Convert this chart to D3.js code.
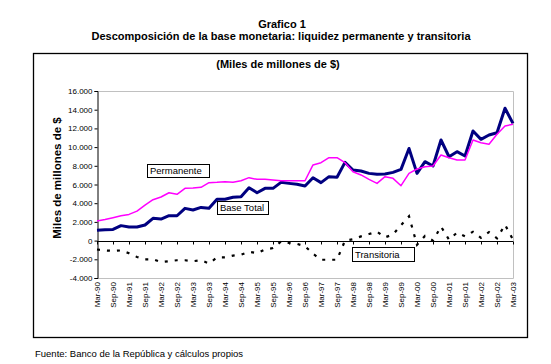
<!DOCTYPE html>
<html>
<head>
<meta charset="utf-8">
<script src="https://cdn.jsdelivr.net/npm/d3@7"></script>
<style>
  html, body { margin: 0; padding: 0; background: #fff; }
  svg { display: block; font-family: "Liberation Sans", Arial, sans-serif; }
</style>
</head>
<body>
<svg id="chart" width="551" height="364"></svg>
<script>
// ---- data (quarterly, Mar-90 .. Mar-03) ----
const years = ["90","91","92","93","94","95","96","97","98","99","00","01","02","03"];
const months = ["Mar","Jun","Sep","Dec"];
const categories = [];
years.forEach(y => months.forEach(m => categories.push(m + "-" + y)));
categories.splice(53);

const baseTotal = [1100,1150,1200,1600,1450,1450,1670,2380,2300,2660,2660,3450,3270,3550,3450,4420,4420,4630,4700,5660,5120,5590,5590,6230,6120,6020,5840,6730,6200,6840,6770,8370,7550,7440,7190,7090,7120,7300,7620,9850,7190,8440,7980,10760,8970,9510,9050,11720,10830,11290,11540,14150,12540];
const permanente = [2100,2250,2450,2650,2800,3150,3800,4370,4660,5120,4950,5590,5630,5700,6200,6230,6300,6230,6400,6730,6550,6550,6480,6400,6400,6400,6400,8090,8330,8870,8870,8330,7370,7020,6550,6120,6840,6660,5870,7190,7660,7900,7980,9150,8870,8620,8620,10760,10470,10300,11370,12260,12440];
const transitoria = [-950,-1050,-1100,-1050,-1350,-1750,-2000,-2000,-2300,-2200,-2100,-2100,-2200,-2100,-2450,-1800,-1800,-1600,-1500,-1200,-1350,-950,-800,-100,-250,-350,-600,-1400,-2050,-2050,-2050,0,150,450,700,950,350,650,1650,2600,-450,500,0,1500,100,850,450,950,300,900,250,1700,100];

const tickLabels = ["Mar-90","Sep-90","Mar-91","Sep-91","Mar-92","Sep-92","Mar-93","Sep-93","Mar-94","Sep-94","Mar-95","Sep-95","Mar-96","Sep-96","Mar-97","Sep-97","Mar-98","Sep-98","Mar-99","Sep-99","Mar-00","Sep-00","Mar-01","Sep-01","Mar-02","Sep-02","Mar-03"];
const yTicks = [-4000,-2000,0,2000,4000,6000,8000,10000,12000,14000,16000];

const titleLines = ["Grafico 1", "Descomposición de la base monetaria: liquidez permanente y transitoria"];
const unitText = "(Miles de millones de $)";
const yAxisTitle = "Miles de millones de $";
const sourceText = "Fuente: Banco de la República y cálculos propios";
const seriesLabels = ["Permanente", "Base Total", "Transitoria"];

// ---- drawing ----
const svg = d3.select("#chart");
const L = 97, R = 513, T = 91, B = 278;

const x = d3.scalePoint().domain(categories).range([L, R]);
const y = d3.scaleLinear().domain([-4000, 16000]).range([B, T]);

const loc = d3.formatLocale({decimal: ",", thousands: ".", grouping: [3], currency: ["$", ""], minus: "-"});
const fmt = loc.format(",.0f");

// titles
svg.append("text").attr("x", 282).attr("y", 28).attr("text-anchor", "middle")
  .attr("font-weight", "bold").attr("font-size", 11).text(titleLines[0]);
svg.append("text").attr("x", 281).attr("y", 40).attr("text-anchor", "middle")
  .attr("font-weight", "bold").attr("font-size", 11).text(titleLines[1]);

// outer box
svg.append("rect").attr("x", 33.5).attr("y", 53.5).attr("width", 494).attr("height", 284)
  .attr("fill", "none").attr("stroke", "#000").attr("stroke-width", 1.3);

svg.append("text").attr("x", 278).attr("y", 68).attr("text-anchor", "middle")
  .attr("font-weight", "bold").attr("font-size", 11).text(unitText);

// plot border (gray) top/right/bottom
svg.append("path")
  .attr("d", `M${L},${T + 0.5}H${R + 0.5}V${B + 0.5}H${L}`)
  .attr("fill", "none").attr("stroke", "#c0c0c0").attr("stroke-width", 1);

// y axis
const yAxis = svg.append("g").attr("transform", `translate(${L + 0.5},0)`)
  .call(d3.axisLeft(y).tickValues(yTicks).tickFormat(fmt).tickSize(3).tickPadding(2));
yAxis.select(".domain").attr("stroke", "#000");
yAxis.selectAll("text").attr("font-size", 8).attr("font-family", "Liberation Sans, Arial, sans-serif").attr("fill", "#000");

// zero line with ticks
const zeroY = Math.round(y(0)) + 0.5;
svg.append("line").attr("x1", L).attr("x2", R).attr("y1", zeroY).attr("y2", zeroY)
  .attr("stroke", "#000").attr("stroke-width", 1);
const tickCats = categories.filter((c, i) => i % 2 === 0);
svg.append("g").selectAll("line").data(tickCats).join("line")
  .attr("x1", d => x(d) + 0.5).attr("x2", d => x(d) + 0.5)
  .attr("y1", zeroY).attr("y2", zeroY + 3)
  .attr("stroke", "#000").attr("stroke-width", 1);

// x labels (rotated)
svg.append("g").selectAll("text").data(tickCats).join("text")
  .attr("transform", (d, i) => `translate(${x(d) + 2.8},${B + 4}) rotate(-90)`)
  .attr("text-anchor", "end")
  .attr("font-size", 8)
  .text((d, i) => tickLabels[i]);

// y axis title
svg.append("text")
  .attr("transform", "translate(61,178) rotate(-90)")
  .attr("text-anchor", "middle").attr("font-weight", "bold").attr("font-size", 11.5)
  .text(yAxisTitle);

// lines
const line = d3.line().x((d, i) => x(categories[i])).y(d => y(d));
svg.append("path").datum(baseTotal).attr("d", line)
  .attr("fill", "none").attr("stroke", "#000080").attr("stroke-width", 3).attr("stroke-linejoin", "round");
svg.append("path").datum(permanente).attr("d", line)
  .attr("fill", "none").attr("stroke", "#ff00ff").attr("stroke-width", 1.5).attr("stroke-linejoin", "round");
svg.append("path").datum(transitoria).attr("d", line)
  .attr("fill", "none").attr("stroke", "#000").attr("stroke-width", 2.2)
  .attr("stroke-dasharray", "3,7");

// series label boxes
function labelBox(tx, ty, w, h, text) {
  svg.append("rect").attr("x", tx + 0.5).attr("y", ty + 0.5).attr("width", w).attr("height", h)
    .attr("fill", "#fff").attr("stroke", "#000").attr("stroke-width", 1);
  svg.append("text").attr("x", tx + 3).attr("y", ty + h - 3.5).attr("font-size", 9.5).text(text);
}
labelBox(147, 164, 62, 13, seriesLabels[0]);
labelBox(217, 201, 51, 13, seriesLabels[1]);
labelBox(352, 247, 62, 14, seriesLabels[2]);

// source
svg.append("text").attr("x", 35).attr("y", 357).attr("font-size", 9.5).text(sourceText);
</script>
</body>
</html>
